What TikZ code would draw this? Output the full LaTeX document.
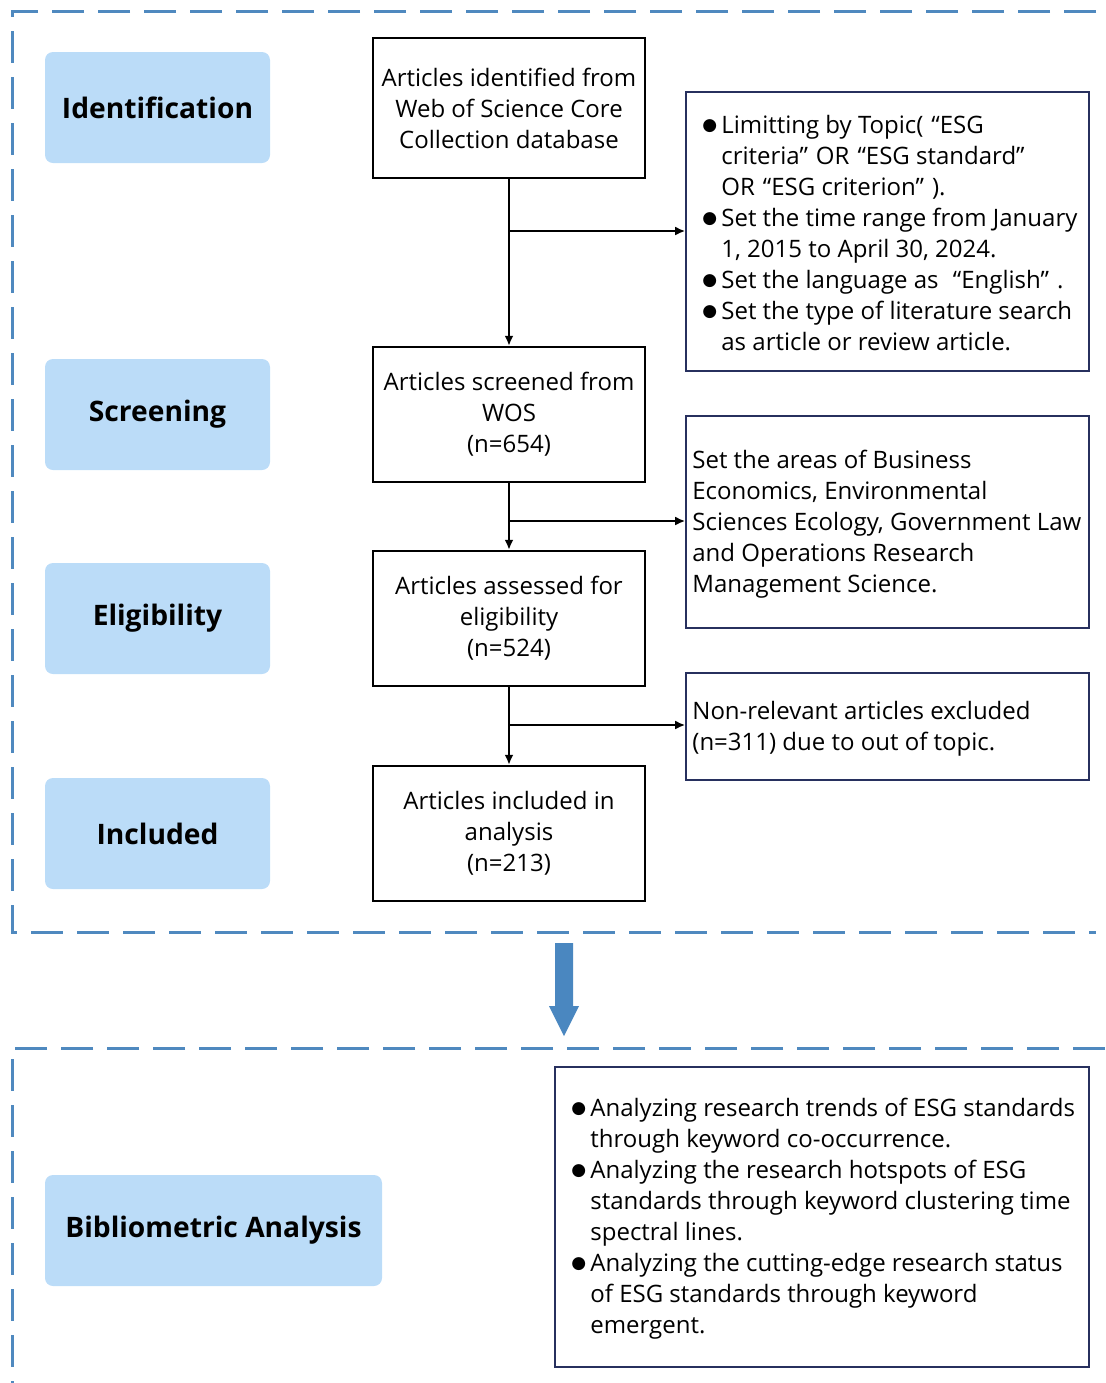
\documentclass[tikz,border=0pt]{standalone}
\usepackage{fontspec}
\setmainfont{Open Sans}
\newfontfamily\dejavu{DejaVu Sans}
\usetikzlibrary{arrows.meta}
\definecolor{dashblue}{HTML}{4F89BF}
\definecolor{arrowblue}{HTML}{4A87C0}
\definecolor{labelfill}{HTML}{BBDCF8}
\definecolor{navy}{HTML}{27305E}
\newcommand\bl{\makebox[9.5pt][l]{\raisebox{1.8pt}{\dejavu\fontsize{8.5}{8.5}\selectfont ●}}}
\newcommand\ind{\hspace*{9.5pt}}
\newcommand\qs{\hspace{4pt}}
\tikzset{
  frame/.style={draw=dashblue, line width=1.5pt, dash pattern=on 16pt off 7pt},
  label/.style={fill=labelfill, draw=none, rounded corners=4pt, minimum width=112.5pt, minimum height=55.5pt, font=\fontsize{14.1}{17}\selectfont\bfseries},
  stepbox/.style={draw=black, line width=1.2pt, minimum width=136pt, minimum height=67.5pt, align=center, font=\fontsize{12}{15.5}\selectfont},
  notebox/.style={draw=navy, line width=0.8pt, minimum width=201.5pt},
  notetext/.style={anchor=west, align=left, inner sep=0pt, font=\fontsize{12}{15.5}\selectfont},
  conn/.style={draw=black, line width=1pt, -{Latex[length=5pt,width=4.5pt]}},
}
\begin{document}
\begin{tikzpicture}[x=0.5pt,y=-0.5pt]
\useasboundingbox (0,0) rectangle (1105,1383);
% dashed frames
\draw[frame] (1096,11) -- (12,11) -- (12,932) -- (1096,932);
\draw[frame] (1105,1048) -- (12,1048) -- (12,1383);
% big blue arrow
\fill[arrowblue] (555,943) -- (573,943) -- (573,1006) -- (579,1006) -- (564,1036) -- (549,1006) -- (555,1006) -- cycle;
% left labels
\node[label] (L1) at (157.5,107.5) {Identification};
\node[label] (L2) at (157.5,414.5) {Screening};
\node[label] (L3) at (157.5,618.5) {Eligibility};
\node[label] (L4) at (157.5,833.5) {Included};
\node[label, minimum width=168.5pt] (L5) at (213.5,1230.5) {Bibliometric Analysis};
% step boxes
\node[stepbox, minimum height=70pt] (B1) at (509,108) {Articles identified from\\Web of Science Core\\Collection database};
\node[stepbox] (B2) at (509,414.5) {Articles screened from\\WOS\\(n=654)};
\node[stepbox] (B3) at (509,618.5) {Articles assessed for\\eligibility\\(n=524)};
\node[stepbox] (B4) at (509,833.5) {Articles included in\\analysis\\(n=213)};
% note boxes
\node[notebox, minimum height=139.5pt] (R1) at (887.5,231.5) {};
\node[notebox, minimum height=106pt] (R2) at (887.5,522) {};
\node[notebox, minimum height=53.5pt] (R3) at (887.5,726.5) {};
\node[notebox, minimum width=267pt, minimum height=150pt] (R4) at (822,1217) {};
\node[notetext] (T1) at (702,233.5) {\bl Limitting by Topic(\qs“ESG\\\ind criteria”\qs OR\qs“ESG standard”\\\ind OR\qs“ESG criterion”\qs).\\\bl Set the time range from January\\\ind 1, 2015 to April 30, 2024.\\\bl Set the language as\qs\ “English”\qs.\\\bl Set the type of literature search\\\ind as article or review article.};
\node[notetext] (T2) at (692,524) {Set the areas of Business\\Economics, Environmental\\Sciences Ecology, Government Law\\and Operations Research\\Management Science.};
\node[notetext] (T3) at (692,729) {Non-relevant articles excluded\\(n=311) due to out of topic.};
\node[notetext] (T4) at (571,1219) {\bl Analyzing research trends of ESG standards\\\ind through keyword co-occurrence.\\\bl Analyzing the research hotspots of ESG\\\ind standards through keyword clustering time\\\ind spectral lines.\\\bl Analyzing the cutting-edge research status\\\ind of ESG standards through keyword\\\ind emergent.};
% connectors
\coordinate (j1) at (509,231);
\coordinate (j2) at (509,521);
\coordinate (j3) at (509,725);
\draw[conn] (B1.south) -- (B2.north);
\draw[conn] (B2.south) -- (B3.north);
\draw[conn] (B3.south) -- (B4.north);
\draw[conn] (j1) -- (j1 -| R1.west);
\draw[conn] (j2) -- (j2 -| R2.west);
\draw[conn] (j3) -- (j3 -| R3.west);
\end{tikzpicture}
\end{document}
